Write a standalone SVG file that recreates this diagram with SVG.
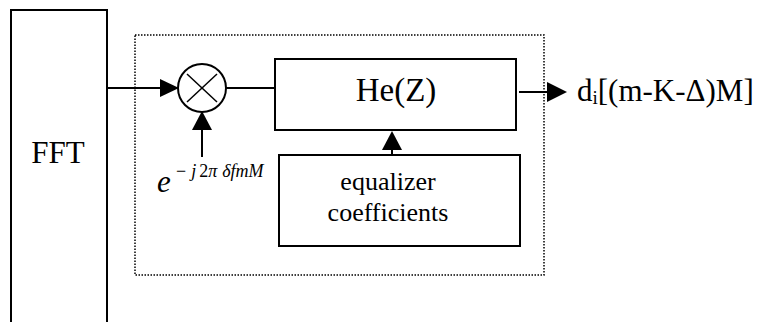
<svg xmlns="http://www.w3.org/2000/svg" width="760" height="322" viewBox="0 0 760 322">
  <style>
    .box { fill: #fff; stroke: #000; stroke-width: 2; }
    .wire { fill: none; stroke: #000; stroke-width: 2; }
    .frame { fill: none; stroke: #000; stroke-width: 1.5; stroke-dasharray: 1.5 1.5; }
    .lbl { font-family: "Liberation Serif", "DejaVu Serif", serif; fill: #000; }
    .head { fill: #000; }
  </style>
  <rect width="760" height="322" fill="#fff"/>

  <!-- dotted equalizer frame -->
  <rect class="frame" x="135" y="35" width="409" height="240"/>

  <g id="fft">
    <rect class="box" x="11" y="10" width="96" height="330"/>
    <text class="lbl" x="58" y="163" font-size="31" text-anchor="middle">FFT</text>
  </g>

  <g id="mixer">
    <circle cx="202" cy="88" r="24" fill="#fff" stroke="#000" stroke-width="2"/>
    <line x1="187" y1="74" x2="217" y2="102" stroke="#000" stroke-width="1.5"/>
    <line x1="217" y1="74" x2="187" y2="102" stroke="#000" stroke-width="1.5"/>
  </g>

  <g id="he">
    <rect class="box" x="275" y="59" width="241" height="71"/>
    <text class="lbl" x="396" y="101" font-size="33" text-anchor="middle">He(Z)</text>
  </g>

  <g id="coeffs">
    <rect class="box" x="279" y="155" width="241" height="91"/>
    <text class="lbl" x="388" y="190" font-size="26" text-anchor="middle">equalizer</text>
    <text class="lbl" x="388" y="221" font-size="26" text-anchor="middle">coefficients</text>
  </g>

  <g id="phase">
    <text class="lbl" x="157" y="192" font-size="31" font-style="italic">e</text>
    <text class="lbl" x="176" y="177" font-size="18"><tspan>−</tspan><tspan font-style="italic" dx="5">j</tspan><tspan dx="3">2</tspan><tspan font-style="italic">π</tspan><tspan font-style="italic" dx="5">δfmM</tspan></text>
  </g>

  <g id="output">
    <text class="lbl" x="577" y="101" font-size="31">d<tspan font-size="19" dy="3">i</tspan><tspan dy="-3">[(m-K-Δ)M]</tspan></text>
  </g>

  <g id="connectors">
    <line class="wire" x1="107" y1="88" x2="162" y2="88"/>
    <polygon class="head" points="160,79 179,88 160,97"/>
    <line class="wire" x1="202" y1="157" x2="202" y2="128"/>
    <polygon class="head" points="192,130 202,111 212,130"/>
    <line class="wire" x1="226" y1="88" x2="275" y2="88"/>
    <line class="wire" x1="392" y1="155" x2="392" y2="148"/>
    <polygon class="head" points="382,150 392,131 402,150"/>
    <line class="wire" x1="519" y1="92" x2="549" y2="92"/>
    <polygon class="head" points="547,82 567,92 547,102"/>
  </g>
</svg>
